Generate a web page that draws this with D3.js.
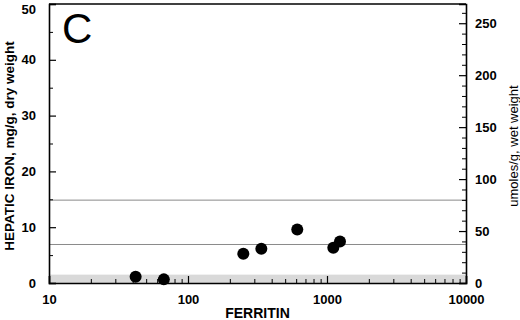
<!DOCTYPE html>
<html>
<head>
<meta charset="utf-8">
<script src="https://cdn.jsdelivr.net/npm/d3@7"></script>
<style>
  body { margin: 0; background: #fff; }
  svg { display: block; font-family: Arial, "Liberation Sans", sans-serif; }
  .axis text { font-size: 13px; font-weight: bold; fill: #000; }
  .axis path, .axis line { stroke: #000; }
</style>
</head>
<body>
<svg width="520" height="320"></svg>
<script>
// data
var ferritin = [42, 67, 250, 337, 611, 1110, 1240];
var ironDry = [1.1, 0.65, 5.25, 6.15, 9.6, 6.3, 7.45];   // mg/g dry weight
var refLines = [6.9, 14.85];                              // mg/g dry weight
var normalBand = [0, 1.5];
var leftTicks = [0, 10, 20, 30, 40, 50];
var rightTicks = [0, 50, 100, 150, 200, 250];
var xTicks = [10, 100, 1000, 10000];

var svg = d3.select("svg"),
    margin = {top: 4, right: 54, bottom: 37, left: 49},
    width = 520 - margin.left - margin.right,
    height = 320 - margin.top - margin.bottom,
    g = svg.append("g").attr("transform", "translate(" + margin.left + "," + margin.top + ")");

var x = d3.scaleLog().domain([10, 10000]).range([0, width]);
var y = d3.scaleLinear().domain([0, 50]).range([height, 0]);
var y2 = d3.scaleLinear().domain([0, 268.5]).range([height, 0]);

// grey normal range band
g.append("rect")
    .attr("x", 0)
    .attr("y", y(normalBand[1]))
    .attr("width", width)
    .attr("height", y(normalBand[0]) - y(normalBand[1]))
    .attr("fill", "#d9d9d9");

g.selectAll("line.ref")
    .data(refLines)
  .enter().append("line")
    .attr("class", "ref")
    .attr("x1", 0).attr("x2", width)
    .attr("y1", function(d) { return y(d); })
    .attr("y2", function(d) { return y(d); })
    .attr("stroke", "#8a8a8a")
    .attr("stroke-width", 1);

// minor ticks
var minorX = [];
for (var p = 10; p < 10000; p *= 10) {
  for (var k = 2; k < 10; k++) minorX.push(p * k);
}

g.append("g").attr("class", "axis")
    .attr("transform", "translate(0," + height + ")")
    .call(d3.axisBottom(x).tickValues(minorX).tickSize(-4).tickFormat(""))
    .select(".domain").remove();

g.append("g").attr("class", "axis")
    .call(d3.axisLeft(y).tickValues(d3.range(5, 50, 10)).tickSize(-4).tickFormat(""))
    .select(".domain").remove();

g.append("g").attr("class", "axis")
    .attr("transform", "translate(" + width + ",0)")
    .call(d3.axisRight(y2).tickValues(d3.range(10, 261, 10).filter(function(d) { return d % 50; })).tickSize(-4).tickFormat(""))
    .select(".domain").remove();

// major axes
var xAxis = g.append("g").attr("class", "axis")
    .attr("transform", "translate(0," + height + ")")
    .call(d3.axisBottom(x).tickValues(xTicks).tickSize(-7).tickPadding(12).tickFormat(d3.format("d")));

var yAxis = g.append("g").attr("class", "axis")
    .call(d3.axisLeft(y).tickValues(leftTicks).tickSize(-7).tickPadding(13));

// top label sits a little below its tick so it is not clipped
yAxis.selectAll(".tick text")
    .filter(function(d) { return d === 50; })
    .attr("y", 5);

var y2Axis = g.append("g").attr("class", "axis")
    .attr("transform", "translate(" + width + ",0)")
    .call(d3.axisRight(y2).tickValues(rightTicks).tickSize(-7).tickPadding(9));

[xAxis, yAxis, y2Axis].forEach(function(a) {
  a.selectAll("line").attr("stroke-width", 1.2);
  a.select(".domain").attr("stroke-width", 1.6);
});

// top border
g.append("line")
    .attr("x1", 0).attr("x2", width)
    .attr("y1", 0).attr("y2", 0)
    .attr("stroke", "#000")
    .attr("stroke-width", 1.4);

// points
g.selectAll("circle.pt")
    .data(ferritin)
  .enter().append("circle")
    .attr("class", "pt")
    .attr("cx", function(d) { return x(d); })
    .attr("cy", function(d, i) { return y(ironDry[i]); })
    .attr("r", 6)
    .attr("fill", "#000");

// labels
svg.append("text")
    .attr("x", 62)
    .attr("y", 43)
    .attr("font-size", 42)
    .text("C");

svg.append("text")
    .attr("x", margin.left + width / 2)
    .attr("y", 318)
    .attr("text-anchor", "middle")
    .attr("font-size", 14)
    .attr("font-weight", "bold")
    .text("FERRITIN");

svg.append("text")
    .attr("transform", "translate(14,146) rotate(-90)")
    .attr("text-anchor", "middle")
    .attr("font-size", 13.5)
    .attr("font-weight", "bold")
    .text("HEPATIC IRON, mg/g, dry weight");

svg.append("text")
    .attr("transform", "translate(518,146) rotate(-90)")
    .attr("text-anchor", "middle")
    .attr("font-size", 13)
    .text("umoles/g, wet weight");
</script>
</body>
</html>
